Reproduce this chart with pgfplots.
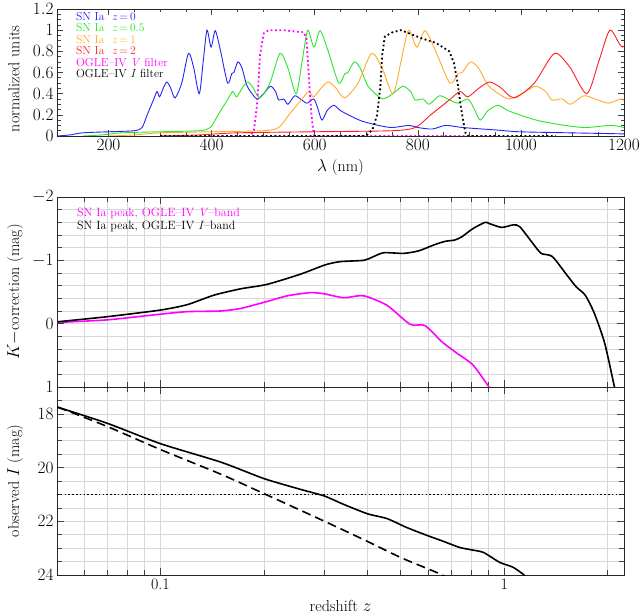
\documentclass[border=0pt]{standalone}
\usepackage{pgfplots}
\pgfplotsset{compat=1.18}
\usepackage{pgfplotstable}

\definecolor{spblue}{RGB}{35,35,245}
\definecolor{spgreen}{RGB}{40,230,40}
\definecolor{sporange}{RGB}{255,170,40}
\definecolor{spred}{RGB}{255,30,30}
\definecolor{spmag}{RGB}{255,0,255}
\definecolor{gridgray}{RGB}{215,215,215}

% SN Ia template spectrum at z=0 and redshifted copies
\pgfplotstableread{
lam v
100 0.0
125 0.01
150 0.03
200 0.04
250 0.05
265 0.08
275 0.2
287 0.34
294 0.42
299 0.37
306 0.45
313 0.51
320 0.46
329 0.36
342 0.50
355 0.78
365 0.65
376 0.40
384 0.72
391 1.0
399 0.84
407 0.995
417 0.81
431 0.50
439 0.59
443 0.60
451 0.70
459 0.64
469 0.47
485 0.36
491 0.355
501 0.40
514 0.47
524 0.42
530 0.34
540 0.35
548 0.30
561 0.38
572 0.35
585 0.31
598 0.35
606 0.26
614 0.15
624 0.24
637 0.29
650 0.24
669 0.19
692 0.14
724 0.10
750 0.08
783 0.10
800 0.08
828 0.066
854 0.10
887 0.08
951 0.057
997 0.04
1094 0.03
1200 0.02
}\snzero

\pgfplotstableread{
lam v
150 0.0
187.5 0.01
225 0.03
300 0.04
375 0.05
397.5 0.08
412.5 0.2
430.5 0.34
441 0.42
448.5 0.37
459 0.45
469.5 0.51
480 0.46
493.5 0.36
513 0.50
532.5 0.78
547.5 0.65
564 0.40
576 0.72
586.5 1.0
598.5 0.84
610.5 0.995
625.5 0.81
646.5 0.50
658.5 0.59
664.5 0.60
676.5 0.70
688.5 0.64
703.5 0.47
727.5 0.36
736.5 0.355
751.5 0.40
771 0.47
786 0.42
795 0.34
810 0.35
822 0.30
841.5 0.38
858 0.35
877.5 0.31
897 0.35
909 0.26
921 0.15
936 0.24
955.5 0.29
975 0.24
1003.5 0.19
1038 0.14
1086 0.10
1125 0.08
1174.5 0.10
1200 0.08
}\snhalf

\pgfplotstableread{
lam v
200 0.0
250 0.01
300 0.03
400 0.04
500 0.05
530 0.08
550 0.2
574 0.34
588 0.42
598 0.37
612 0.45
626 0.51
640 0.46
658 0.36
684 0.50
710 0.78
730 0.65
752 0.40
768 0.72
782 1.0
798 0.84
814 0.995
834 0.81
862 0.50
878 0.59
886 0.60
902 0.70
918 0.64
938 0.47
970 0.36
982 0.355
1002 0.40
1028 0.47
1048 0.42
1060 0.34
1080 0.35
1096 0.30
1122 0.38
1144 0.35
1170 0.31
1196 0.35
1212 0.26
}\snone

\pgfplotstableread{
lam v
300 0.0
375 0.01
450 0.03
600 0.04
750 0.05
795 0.08
825 0.2
861 0.34
882 0.42
897 0.37
918 0.45
939 0.51
960 0.46
987 0.36
1026 0.50
1065 0.78
1095 0.65
1128 0.40
1152 0.72
1173 1.0
1197 0.84
1221 0.995
}\sntwo

\begin{document}
\begin{tikzpicture}
\pgfplotsset{
  every axis/.append style={
    scale only axis, width=567pt,
    axis line style={black!85, line width=0.7pt},
    tick style={black!75, line width=0.6pt},
    tick align=inside,
    major tick length=6pt, minor tick length=3.5pt,
    tick label style={font=\fontsize{16}{16}\selectfont},
    label style={font=\fontsize{16}{16}\selectfont},
    /pgf/number format/set thousands separator={},
  },
}
\path[use as bounding box] (-57pt,9pt) rectangle (586pt,-606pt);

% ---- top: spectra and filters
\begin{axis}[
  at={(0,0)}, anchor=north west, height=127pt,
  xmin=100, xmax=1200, ymin=0, ymax=1.2,
  xtick={200,400,600,800,1000,1200}, minor x tick num=3,
  ytick={0,0.2,0.4,0.6,0.8,1,1.2}, minor y tick num=3,
  xlabel={$\lambda$ (nm)},
  ylabel={normalized units},
  xlabel style={at={(axis description cs:0.5,-0.25)}, anchor=center},
  ylabel style={at={(axis description cs:-0.076,0.45)}, anchor=center},
  legend image code/.code={},
  legend cell align=left,
  legend style={draw=none, fill=none, at={(axis description cs:0.028,0.99)},
    anchor=north west, font=\fontsize{11.6}{11.6}\selectfont, row sep=1.2pt,
    nodes={inner sep=0pt, text height=8pt, text depth=2.3pt}},
]
\addplot[spblue, line width=0.9pt, smooth, tension=0.45] table[x=lam, y=v] {\snzero};
\addlegendentry{\textcolor{spblue}{SN Ia\ \ \textit{z}\,=\,0}}
\addplot[spgreen, line width=0.9pt, smooth, tension=0.45] table[x=lam, y=v] {\snhalf};
\addlegendentry{\textcolor{spgreen}{SN Ia\ \ \textit{z}\,=\,0.5}}
\addplot[sporange, line width=0.9pt, smooth, tension=0.45] table[x=lam, y=v] {\snone};
\addlegendentry{\textcolor{sporange}{SN Ia\ \ \textit{z}\,=\,1}}
\addplot[spred, line width=0.9pt, smooth, tension=0.45] table[x=lam, y=v] {\sntwo};
\addlegendentry{\textcolor{spred}{SN Ia\ \ \textit{z}\,=\,2}}
\addplot[spmag, line width=1.8pt, dash pattern=on 1.8pt off 2.6pt] coordinates {
(300,0) (475,0) (482,0.05) (488,0.29) (494,0.77) (501,0.97) (511,1.0) (540,1.0)
(566,0.985) (579,0.98) (584,0.92) (588,0.61) (593,0.23) (598,0.01) (603,0) (955,0)};
\addlegendentry{\textcolor{spmag}{OGLE--IV \textit{V} filter}}
\addplot[black, line width=1.8pt, dash pattern=on 1.8pt off 2.6pt] coordinates {
(300,0) (699,0) (712,0.06) (721,0.2) (727,0.45) (731,0.77) (736,0.94) (751,0.98)
(767,1.0) (783,0.97) (809,0.92) (835,0.88) (861,0.80) (870,0.69) (877,0.51)
(883,0.29) (888,0.14) (893,0.02) (898,0) (1068,0)};
\addlegendentry{OGLE--IV \textit{I} filter}
\end{axis}

% ---- middle: K-corrections
\begin{axis}[
  at={(0,-188pt)}, anchor=north west, height=190pt,
  xmode=log, xmin=0.05, xmax=2.23,
  ymin=-2, ymax=1, y dir=reverse,
  xtick={0.1,1}, xticklabels={},
  minor xtick={0.05,0.06,0.07,0.08,0.09,0.2,0.3,0.4,0.5,0.6,0.7,0.8,0.9,2},
  ytick={-2,-1,0,1},
  minor ytick={-1.8,-1.6,-1.4,-1.2,-0.8,-0.6,-0.4,-0.2,0.2,0.4,0.6,0.8},
  minor tick length=5pt, major tick length=7pt,
  grid=both, grid style={gridgray, line width=0.6pt},
  ylabel={$K-$correction (mag)},
  ylabel style={at={(axis description cs:-0.074,0.5)}, anchor=center},
  legend image code/.code={},
  legend cell align=left,
  legend style={draw=none, fill=none, at={(axis description cs:0.03,0.95)},
    anchor=north west, font=\fontsize{12}{12}\selectfont, row sep=2.7pt,
    nodes={inner sep=0pt, text height=8pt, text depth=2.3pt}},
]
\addplot[spmag, line width=1.6pt, smooth, tension=0.4] coordinates {
(0.0502,-0.02) (0.07,-0.06) (0.1,-0.15) (0.12,-0.19) (0.149,-0.20) (0.171,-0.24)
(0.204,-0.35) (0.234,-0.44) (0.273,-0.49) (0.30,-0.47) (0.341,-0.41) (0.39,-0.44)
(0.456,-0.29) (0.532,0.01) (0.588,0.03) (0.66,0.29) (0.73,0.47) (0.81,0.65)
(0.90,0.99) (0.905,1.05)};
\addlegendentry{\textcolor{spmag}{SN Ia peak, OGLE--IV \textit{V}--band}}
\addplot[black, line width=1.6pt, smooth, tension=0.4] coordinates {
(0.0502,-0.03) (0.07,-0.11) (0.1,-0.215) (0.1196,-0.30) (0.143,-0.45) (0.171,-0.55)
(0.204,-0.62) (0.255,-0.78) (0.302,-0.93) (0.334,-0.98) (0.39,-1.0) (0.413,-1.05)
(0.446,-1.12) (0.51,-1.11) (0.564,-1.15) (0.622,-1.24) (0.673,-1.30) (0.717,-1.32)
(0.752,-1.37) (0.81,-1.50) (0.88,-1.60) (0.905,-1.58) (0.983,-1.52) (1.063,-1.56)
(1.11,-1.53) (1.21,-1.27) (1.28,-1.11) (1.38,-1.06) (1.52,-0.77) (1.62,-0.58)
(1.72,-0.45) (1.83,-0.16) (1.96,0.31) (2.09,0.99) (2.1,1.05)};
\addlegendentry{SN Ia peak, OGLE--IV \textit{I}--band}
\end{axis}

% ---- bottom: observed I magnitude
\begin{axis}[
  at={(0,-378pt)}, anchor=north west, height=188pt,
  xmode=log, xmin=0.05, xmax=2.23,
  ymin=17, ymax=24, y dir=reverse,
  xtick={0.1,1}, xticklabels={0.1,1},
  minor xtick={0.05,0.06,0.07,0.08,0.09,0.2,0.3,0.4,0.5,0.6,0.7,0.8,0.9,2},
  ytick={18,20,22,24},
  minor ytick={17,17.5,18.5,19,19.5,20.5,21,21.5,22.5,23,23.5},
  minor tick length=5pt, major tick length=7pt,
  grid=both, grid style={gridgray, line width=0.6pt},
  xlabel={redshift $z$},
  ylabel={observed $I$ (mag)},
  xlabel style={at={(axis description cs:0.5,-0.165)}, anchor=center},
  ylabel style={at={(axis description cs:-0.074,0.5)}, anchor=center},
]
\addplot[black, line width=1.7pt, dash pattern=on 1.7pt off 2.1pt] coordinates {(0.05,21) (2.23,21)};
\addplot[black, line width=1.6pt, dash pattern=on 9pt off 5pt, smooth] coordinates {
(0.0502,17.75) (0.07,18.47) (0.1,19.33) (0.15,20.25) (0.2,20.97) (0.3,22.0)
(0.4,22.75) (0.5,23.35) (0.6,23.77) (0.65,23.96) (0.67,24.05)};
\addplot[black, line width=1.6pt, smooth, tension=0.4] coordinates {
(0.0502,17.75) (0.07,18.35) (0.1,19.11) (0.15,19.80) (0.2,20.41) (0.2552,20.81)
(0.30,21.06) (0.341,21.37) (0.40,21.72) (0.456,21.90) (0.52,22.23) (0.60,22.54)
(0.66,22.73) (0.74,22.97) (0.80,23.06) (0.87,23.16) (0.97,23.53) (1.06,23.71)
(1.14,23.99) (1.16,24.1)};
\end{axis}
\end{tikzpicture}
\end{document}
